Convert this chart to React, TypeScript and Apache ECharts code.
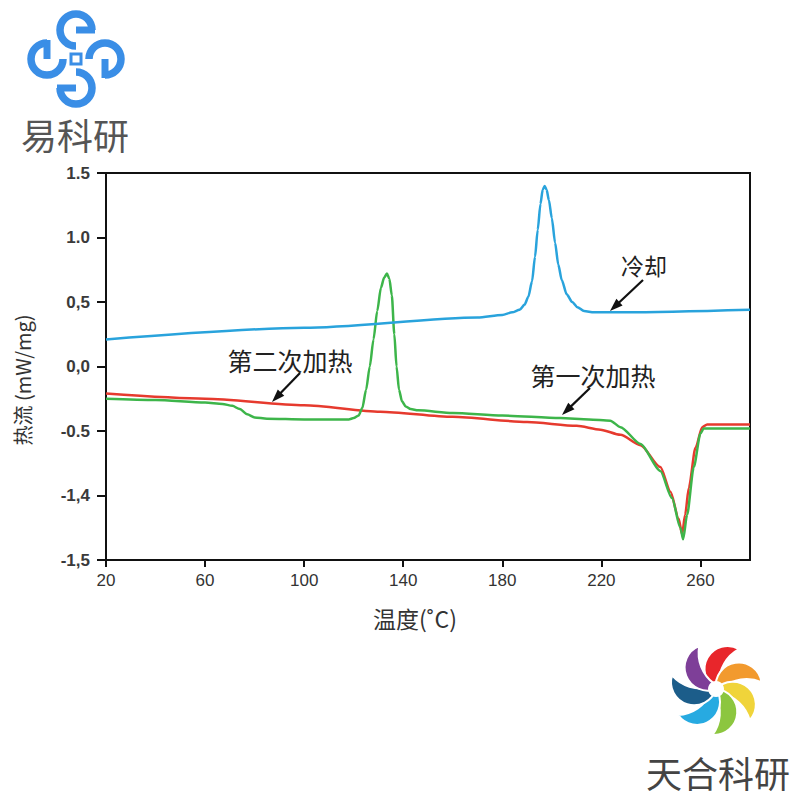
import React, { useEffect, useRef } from "react";
import * as echarts from "echarts";

// ---- data (temperature °C, heat flow in axis units) ----
const coolingCurve: [number, number][] = [
  [20, 0.21], [100, 0.3], [170, 0.38], [180, 0.4], [184, 0.42], [187, 0.44],
  [189, 0.48], [190.5, 0.54], [192, 0.66], [193.2, 0.85], [194.3, 1.06],
  [195.4, 1.26], [196.3, 1.37], [197.1, 1.4], [197.9, 1.37], [198.8, 1.29],
  [200, 1.15], [201.3, 0.96], [202.6, 0.79], [204, 0.67], [206, 0.56],
  [208.2, 0.5], [210.3, 0.46], [213, 0.43], [217, 0.42], [230, 0.42], [280, 0.44],
];
const firstHeating: [number, number][] = [
  [20, -0.21], [60, -0.25], [100, -0.3], [130.7, -0.35], [160, -0.39],
  [190, -0.43], [210, -0.46], [219.6, -0.49], [227.7, -0.53], [235.8, -0.61],
  [243.8, -0.78], [247.9, -0.97], [251.2, -1.18], [252.6, -1.3], [253.8, -1.15],
  [255.3, -0.94], [258, -0.63], [260.7, -0.47], [262.7, -0.45], [280, -0.45],
];
const secondHeating: [number, number][] = [
  [20, -0.25], [40, -0.26], [60, -0.28], [67, -0.29], [71, -0.305], [74, -0.33],
  [77, -0.37], [80, -0.395], [85, -0.405], [100, -0.41], [118, -0.41],
  [120, -0.4], [122, -0.38], [123.5, -0.32], [125, -0.18], [126.5, 0.0],
  [128, 0.21], [129.5, 0.43], [131, 0.61], [132.3, 0.69], [133.4, 0.72],
  [134.4, 0.68], [135.4, 0.55], [136.4, 0.25], [137.3, 0.0], [138.3, -0.18],
  [139.5, -0.27], [141, -0.31], [143, -0.33], [146, -0.34], [160, -0.36],
  [180, -0.38], [203.4, -0.4], [215, -0.41], [223.6, -0.42], [227.7, -0.47],
  [235.8, -0.6], [243.8, -0.81], [248.5, -1.02], [251.9, -1.25], [253, -1.34],
  [254.6, -1.15], [257.3, -0.78], [260, -0.52], [261.3, -0.48], [263, -0.48],
  [280, -0.48],
];
const yTickValues = [-1.5, -1, -0.5, 0, 0.5, 1, 1.5];
const yTickLabels = ["-1,5", "-1,4", "-0.5", "0,0", "0,5", "1.0", "1.5"];
const xAxisTitle = "温度(˚C)";
const yAxisTitle = "热流 (mW/mg)";
const labelCooling = "冷却";
const labelFirst = "第一次加热";
const labelSecond = "第二次加热";

const BLADE_D = "M 0 0 A 23 23 0 0 1 46 0 A 38 38 0 0 0 6 0 Z";
let registered = false;
function ensureShapes() {
  if (registered) return;
  registered = true;
  echarts.graphic.registerShape("blade", echarts.graphic.extendPath(BLADE_D, {}) as any);
}

function arrow(x1: number, y1: number, x2: number, y2: number) {
  const dx = x2 - x1, dy = y2 - y1;
  const L = Math.hypot(dx, dy);
  const ux = dx / L, uy = dy / L;
  const hl = 13, hw = 4.5;
  const bx = x2 - ux * hl, by = y2 - uy * hl;
  return [
    { type: "line", z: 20, shape: { x1, y1, x2: bx + ux * 2, y2: by + uy * 2 }, style: { stroke: "#111", lineWidth: 2.2 } },
    {
      type: "polygon", z: 20,
      shape: { points: [[x2, y2], [bx - uy * hw, by + ux * hw], [bx + uy * hw, by - ux * hw]] },
      style: { fill: "#111" },
    },
  ];
}

function logoTopLeft() {
  const c = "#3a8ee6";
  const cx0 = 76, cy0 = 59, d = 29, r = 16;
  const els: any[] = [];
  for (let k = 0; k < 4; k++) {
    const a = (k * Math.PI) / 2;
    const ox = Math.sin(a) * d, oy = -Math.cos(a) * d;
    const cx = cx0 + ox, cy = cy0 + oy;
    els.push({
      type: "arc",
      shape: { cx, cy, r, startAngle: Math.PI / 2 + a, endAngle: 2 * Math.PI + a, clockwise: true },
      style: { stroke: c, lineWidth: 7.5, fill: null },
    });
    els.push({
      type: "line",
      shape: { x1: cx, y1: cy, x2: cx + Math.cos(a) * (r + 3), y2: cy + Math.sin(a) * (r + 3) },
      style: { stroke: c, lineWidth: 7 },
    });
  }
  els.push({ type: "rect", shape: { x: cx0 - 5, y: cy0 - 5, width: 10, height: 10 }, style: { stroke: c, lineWidth: 3, fill: null } });
  els.push({
    type: "text", x: 75, y: 134,
    style: { text: "易科研", fontSize: 36, lineHeight: 36, fill: "#555", fontFamily: "Noto Sans CJK SC", align: "center", verticalAlign: "middle" },
  });
  return els;
}

function logoBottomRight() {
  const colors = ["#e8262b", "#f29a2e", "#f0d43a", "#8cc63f", "#27aae1", "#1c5d8a", "#7e3f98"];
  const cx = 716, cy = 689;
  const els: any[] = [];
  for (let k = 0; k < 7; k++) {
    const phi = 90 - k * (360 / 7);
    const rot = ((phi - 30) * Math.PI) / 180;
    els.push({
      type: "blade", x: cx, y: cy, rotation: rot,
      style: { fill: colors[k], stroke: "#fff", lineWidth: 2 },
    });
  }
  els.push({ type: "circle", shape: { cx, cy, r: 8 }, style: { fill: "#fff" } });
  els.push({
    type: "text", x: 718, y: 772,
    style: { text: "天合科研", fontSize: 36, fill: "#444", fontFamily: "Noto Sans CJK SC", align: "center", verticalAlign: "middle" },
  });
  return els;
}

export default function App() {
  const ref = useRef<HTMLDivElement>(null);
  useEffect(() => {
    if (!ref.current) return;
    ensureShapes();
    const chart = echarts.init(ref.current, null, { renderer: "svg" });
    const axisCol = "#111";
    const labelFont = "'Liberation Sans', Arial, sans-serif";
    const cjk = "'Noto Sans CJK SC', sans-serif";
    const lineCommon = { type: "line", showSymbol: false, smooth: 0.25, smoothMonotone: "x" };
    chart.setOption({
      animation: false,
      backgroundColor: "#fff",
      grid: { left: 106, right: 50, top: 173, bottom: 240, show: true, borderColor: axisCol, borderWidth: 2 },
      xAxis: {
        type: "value", min: 20, max: 280, interval: 40,
        axisLine: { show: true, onZero: false, lineStyle: { color: axisCol, width: 2 } },
        axisTick: { show: true, length: 7, lineStyle: { color: axisCol, width: 2 } },
        axisLabel: { color: "#333", fontSize: 17, margin: 12, fontFamily: labelFont, showMaxLabel: false },
        splitLine: { show: false },
      },
      yAxis: {
        type: "value", min: -1.5, max: 1.5, interval: 0.5,
        axisLine: { show: true, onZero: false, lineStyle: { color: axisCol, width: 2 } },
        axisTick: { show: true, length: 9, lineStyle: { color: axisCol, width: 2 } },
        axisLabel: {
          color: "#3a3a3a", fontSize: 17, margin: 16, fontFamily: labelFont, fontWeight: "bold",
          formatter: (v: number) => {
            let best = 0;
            yTickValues.forEach((t, i) => { if (Math.abs(t - v) < Math.abs(yTickValues[best] - v)) best = i; });
            return yTickLabels[best];
          },
        },
        splitLine: { show: false },
      },
      series: [
        { ...lineCommon, name: "第一次加热", data: firstHeating, lineStyle: { color: "#e63a2e", width: 2.5 }, itemStyle: { color: "#e63a2e" } },
        { ...lineCommon, name: "第二次加热", data: secondHeating, lineStyle: { color: "#3db54a", width: 2.5 }, itemStyle: { color: "#3db54a" } },
        { ...lineCommon, name: "冷却", data: coolingCurve, lineStyle: { color: "#29a3dc", width: 2.5 }, itemStyle: { color: "#29a3dc" } },
      ],
      graphic: [
        ...logoTopLeft(),
        ...logoBottomRight(),
        { type: "text", x: 415, y: 618, style: { text: xAxisTitle, fontSize: 23, fill: "#333", fontFamily: cjk, align: "center", verticalAlign: "middle" } },
        { type: "text", x: 22, y: 380, rotation: Math.PI / 2, style: { text: yAxisTitle, fontSize: 20, fill: "#333", fontFamily: cjk, align: "center", verticalAlign: "middle" } },
        { type: "text", z: 20, x: 644, y: 265, style: { text: labelCooling, fontSize: 23, fill: "#222", fontFamily: cjk, align: "center", verticalAlign: "middle" } },
        { type: "text", z: 20, x: 593, y: 375, style: { text: labelFirst, fontSize: 25, fill: "#222", fontFamily: cjk, align: "center", verticalAlign: "middle" } },
        { type: "text", z: 20, x: 290, y: 360, style: { text: labelSecond, fontSize: 25, fill: "#222", fontFamily: cjk, align: "center", verticalAlign: "middle" } },
        ...arrow(643, 280, 610, 311),
        ...arrow(590, 388, 562, 415),
        ...arrow(300, 373, 272, 402),
      ],
    });
    return () => chart.dispose();
  }, []);
  return <div ref={ref} style={{ position: "fixed", left: 0, top: 0, width: 800, height: 800 }} />;
}
